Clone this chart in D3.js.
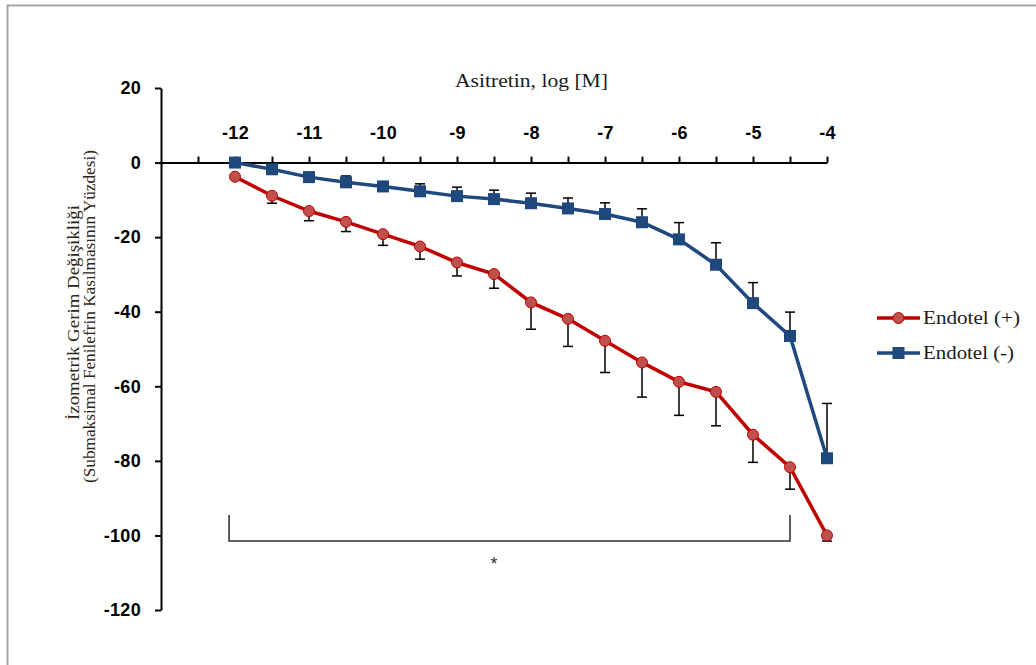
<!DOCTYPE html>
<html>
<head>
<meta charset="utf-8">
<script src="https://cdn.jsdelivr.net/npm/d3@7"></script>
<style>
  body { margin: 0; background: #fff; }
  .axis path, .axis line { stroke: #000; stroke-width: 2px; }
  .axis text { font-family: "Liberation Sans", Arial, sans-serif; font-weight: bold; font-size: 18px; letter-spacing: 0.3px; fill: #000; }
  .serif { font-family: "Liberation Serif", "Times New Roman", serif; }
</style>
</head>
<body>
<div id="chart"></div>
<script>
var concentrations = [-12, -11.5, -11, -10.5, -10, -9.5, -9, -8.5, -8, -7.5, -7, -6.5, -6, -5.5, -5, -4.5, -4];
var endotelPlus = [-3.8, -8.9, -13.0, -15.9, -19.2, -22.5, -26.8, -29.9, -37.5, -41.9, -47.8, -53.6, -58.8, -61.5, -73.0, -81.7, -100.0];
var endotelPlusErr = [0, 2.0, 2.6, 2.6, 3.0, 3.4, 3.6, 3.8, 7.2, 7.4, 8.5, 9.3, 9.0, 9.1, 7.4, 5.9, 1.5];
var endotelMinus = [0, -1.8, -3.9, -5.3, -6.4, -7.7, -9.0, -9.8, -10.9, -12.3, -13.8, -16.0, -20.6, -27.4, -37.7, -46.5, -79.3];
var endotelMinusErr = [0, 0.8, 1.0, 1.7, 1.2, 2.0, 2.4, 2.4, 2.7, 2.8, 3.0, 3.6, 4.5, 5.9, 5.5, 6.4, 14.7];
var xTickLabels = [-12, -11, -10, -9, -8, -7, -6, -5, -4];
var xMinorTicks = [-12.5, -12, -11.5, -11, -10.5, -10, -9.5, -9, -8.5, -8, -7.5, -7, -6.5, -6, -5.5, -5, -4.5, -4];
var yTickLabels = [20, 0, -20, -40, -60, -80, -100, -120];
var seriesNames = ["Endotel (+)", "Endotel (-)"];

const W = 1036, H = 665;

var svg = d3.select("#chart")
  .append("svg")
  .attr("width", W)
  .attr("height", H);

// chart frame (only top & left visible in window)
svg.append("rect")
  .attr("x", 7.5).attr("y", 5.5)
  .attr("width", W + 20).attr("height", H + 20)
  .style("fill", "#fff")
  .style("stroke", "#a6a6a6")
  .style("stroke-width", 2);

var x = d3.scaleLinear().domain([-13, -4]).range([161, 827]);
var y = d3.scaleLinear().domain([-120, 20]).range([610, 88]);

var yAxis = d3.axisLeft(y)
  .tickValues(yTickLabels)
  .tickSize(6)
  .tickSizeOuter(0)
  .tickPadding(14);

svg.append("g")
  .attr("class", "axis axis-y")
  .attr("transform", "translate(" + x(-13) + ",0)")
  .call(yAxis);

var xAxis = d3.axisTop(x)
  .tickValues(xMinorTicks)
  .tickSize(6)
  .tickSizeOuter(0)
  .tickPadding(18)
  .tickFormat(function(d) { return xTickLabels.indexOf(d) >= 0 ? d : ""; });

svg.append("g")
  .attr("class", "axis axis-x")
  .attr("transform", "translate(0," + y(0) + ")")
  .call(xAxis);

svg.selectAll(".axis text").text(function() { return this.textContent.replace("−", "-"); });

// axis titles
svg.append("text")
  .attr("class", "serif")
  .attr("x", 455).attr("y", 87)
  .attr("textLength", 153)
  .attr("lengthAdjust", "spacingAndGlyphs")
  .style("font-size", "18px")
  .style("fill", "#1a1a1a")
  .text("Asitretin, log  [M]");

var yTitle = svg.append("text")
  .attr("class", "serif")
  .attr("transform", "translate(79,0) rotate(-90)")
  .style("font-size", "17px")
  .style("fill", "#2e2418");
yTitle.append("tspan").attr("x", -420).attr("y", 0)
  .attr("textLength", 215).attr("lengthAdjust", "spacingAndGlyphs")
  .text("İzometrik Gerim  Değişikliği");
yTitle.append("tspan").attr("x", -483).attr("y", 16)
  .attr("textLength", 333).attr("lengthAdjust", "spacingAndGlyphs")
  .text("(Submaksimal Fenilefrin Kasılmasının Yüzdesi)");

var data = concentrations.map(function(c, i) {
  return {c: c, plus: endotelPlus[i], plusErr: endotelPlusErr[i], minus: endotelMinus[i], minusErr: endotelMinusErr[i]};
});

// error bars
function errorBars(cls, val, err, dir) {
  var g = svg.append("g").attr("class", cls);
  g.selectAll("line.stem")
    .data(data.filter(function(d) { return d[err] > 0; }))
    .enter().append("line")
    .attr("class", "stem")
    .attr("x1", function(d) { return x(d.c); })
    .attr("x2", function(d) { return x(d.c); })
    .attr("y1", function(d) { return y(d[val]); })
    .attr("y2", function(d) { return y(d[val] + dir * d[err]); })
    .style("stroke", "#000").style("stroke-width", 1.5);
  g.selectAll("line.cap")
    .data(data.filter(function(d) { return d[err] > 0; }))
    .enter().append("line")
    .attr("class", "cap")
    .attr("x1", function(d) { return x(d.c) - 5; })
    .attr("x2", function(d) { return x(d.c) + 5; })
    .attr("y1", function(d) { return y(d[val] + dir * d[err]); })
    .attr("y2", function(d) { return y(d[val] + dir * d[err]); })
    .style("stroke", "#000").style("stroke-width", 1.5);
}
errorBars("err-plus", "plus", "plusErr", -1);
errorBars("err-minus", "minus", "minusErr", 1);

var linePlus = d3.line().x(function(d) { return x(d.c); }).y(function(d) { return y(d.plus); });
var lineMinus = d3.line().x(function(d) { return x(d.c); }).y(function(d) { return y(d.minus); });

svg.append("path")
  .datum(data)
  .attr("d", linePlus)
  .style("fill", "none")
  .style("stroke", "#c00000")
  .style("stroke-width", 3.5);

svg.selectAll(".pt-plus")
  .data(data)
  .enter().append("circle")
  .attr("class", "pt-plus")
  .attr("cx", function(d) { return x(d.c); })
  .attr("cy", function(d) { return y(d.plus); })
  .attr("r", 5.5)
  .style("fill", "#c0504d")
  .style("stroke", "#c00000")
  .style("stroke-width", 1);

svg.append("path")
  .datum(data)
  .attr("d", lineMinus)
  .style("fill", "none")
  .style("stroke", "#1f497d")
  .style("stroke-width", 3.5);

svg.selectAll(".pt-minus")
  .data(data)
  .enter().append("rect")
  .attr("class", "pt-minus")
  .attr("x", function(d) { return x(d.c) - 6; })
  .attr("y", function(d) { return y(d.minus) - 6; })
  .attr("width", 12)
  .attr("height", 12)
  .style("fill", "#1f497d");

// significance bracket
var bracketFrom = -12.08, bracketTo = -4.5, bracketY = -101.5, bracketTop = -94.5;
svg.append("path")
  .attr("d", "M" + x(bracketFrom) + "," + y(bracketTop) +
             "V" + y(bracketY) + "H" + x(bracketTo) + "V" + y(bracketTop))
  .style("fill", "none")
  .style("stroke", "#333")
  .style("stroke-width", 1.6);

svg.append("text")
  .attr("x", x(-8.5))
  .attr("y", y(-109.2))
  .attr("text-anchor", "middle")
  .style("font-family", "Liberation Sans, Arial, sans-serif")
  .style("font-size", "18px")
  .style("fill", "#333")
  .text("*");

// legend
var legend = svg.append("g").attr("transform", "translate(877,318)");
[0, 1].forEach(function(i) {
  var g = legend.append("g").attr("transform", "translate(0," + (i * 35) + ")");
  g.append("line")
    .attr("x1", 0).attr("x2", 43)
    .style("stroke", i === 0 ? "#c00000" : "#1f497d")
    .style("stroke-width", 3.5);
  if (i === 0) {
    g.append("circle").attr("cx", 21.5).attr("r", 5.5)
      .style("fill", "#c0504d").style("stroke", "#c00000");
  } else {
    g.append("rect").attr("x", 15.5).attr("y", -6).attr("width", 12).attr("height", 12)
      .style("fill", "#1f497d");
  }
  g.append("text")
    .attr("class", "serif")
    .attr("x", 46).attr("y", 6)
    .attr("textLength", i === 0 ? 97 : 91)
    .attr("lengthAdjust", "spacingAndGlyphs")
    .style("font-size", "18px")
    .style("fill", "#1a1a1a")
    .text(seriesNames[i]);
});
</script>
</body>
</html>
